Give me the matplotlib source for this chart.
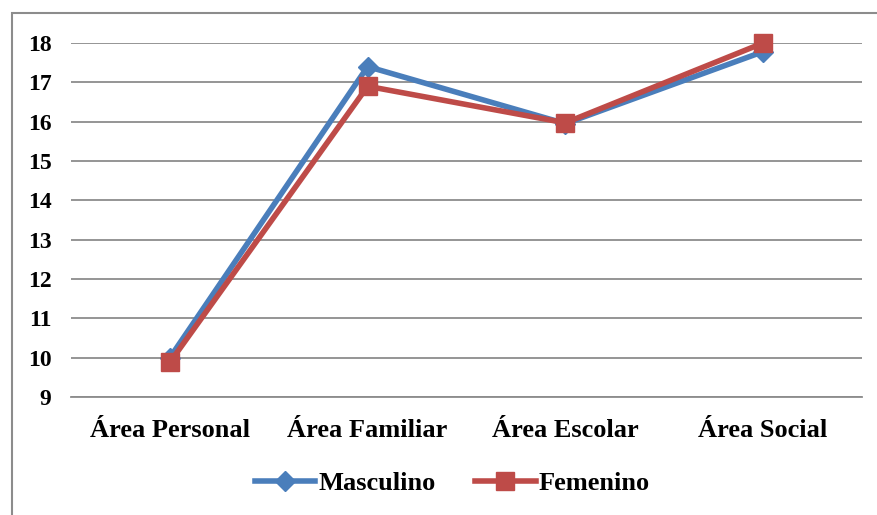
import matplotlib.pyplot as plt
from matplotlib.patches import Rectangle

categorias = ["Área Personal", "Área Familiar", "Área Escolar", "Área Social"]
masculino = [10.0, 17.4, 15.95, 17.78]
femenino = [9.88, 16.9, 15.97, 18.0]
yticks = list(range(9, 19))

plt.rcParams['font.family'] = ['Liberation Serif', 'DejaVu Serif']
plt.rcParams['font.weight'] = 'bold'

fig = plt.figure(figsize=(8.77, 5.15), dpi=100)
ax = fig.add_axes([71 / 877, 1 - 397 / 515, (862 - 71) / 877, (397 - 43) / 515])

# outer chart border
fig.patches.append(Rectangle((12 / 877, -0.05), 1.0, 1 - 13 / 515 + 0.05,
                             transform=fig.transFigure, fill=False,
                             edgecolor='#8c8c8c', linewidth=1.5))

x = range(len(categorias))
ax.plot(x, masculino, color='#4a7ebb', linewidth=4, marker='D', markersize=10,
        label='Masculino', zorder=3, clip_on=False)
ax.plot(x, femenino, color='#be4b48', linewidth=4, marker='s', markersize=13,
        label='Femenino', zorder=4, clip_on=False)

ax.set_xlim(-0.5, 3.5)
ax.set_ylim(9, 18)
ax.set_yticks(yticks)
ax.set_yticklabels([str(v) for v in yticks], fontsize=17, fontweight='bold')
ax.set_xticks(list(x))
ax.set_xticklabels(categorias, fontsize=19, fontweight='bold')
ax.tick_params(axis='y', length=0, pad=14)
ax.tick_params(axis='x', length=0, pad=16)
ax.grid(axis='y', color='#8c8c8c', linewidth=1.3)
ax.set_axisbelow(True)
for s in ['top', 'right', 'left']:
    ax.spines[s].set_visible(False)
ax.spines['bottom'].set_color('#8c8c8c')
ax.spines['bottom'].set_linewidth(1.3)

fig.legend(loc='center', bbox_to_anchor=(452 / 877, 1 - 483 / 515), ncol=2,
           frameon=False, prop={'family': 'Liberation Serif', 'weight': 'bold', 'size': 19},
           handlelength=2.3, columnspacing=1.5, handletextpad=0.1)

fig.savefig('out.png', dpi=100)
